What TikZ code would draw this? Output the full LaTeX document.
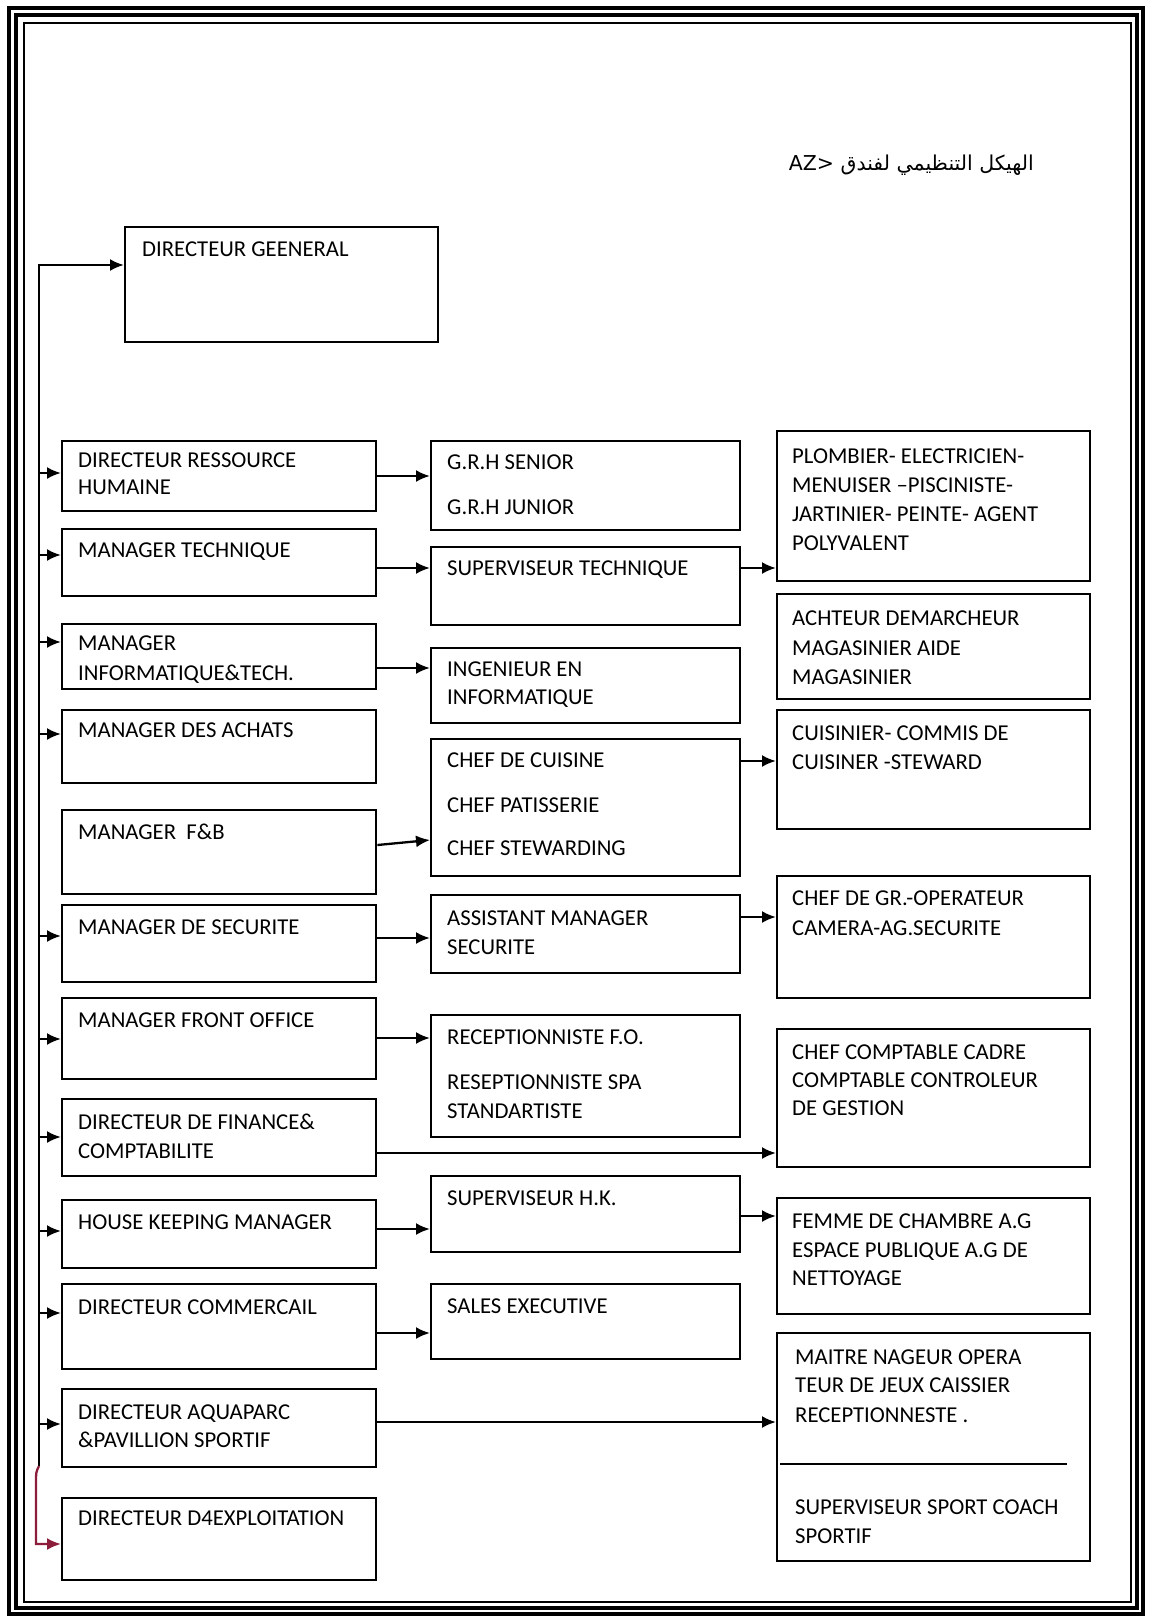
\documentclass[tikz,border=0pt]{standalone}
\usepackage{fontspec}
\setmainfont{Carlito}
\newfontfamily\arabicfont[Script=Arabic]{DejaVu Sans}
\TeXXeTstate=1
\usetikzlibrary{arrows.meta}
\definecolor{trunkred}{RGB}{140,30,60}

% \obox{name}{left}{top}{right}{bottom}
\newcommand{\obox}[5]{\node[orgbox, minimum width={#4pt-#2pt}, minimum height={#5pt-#3pt}] (#1) at (#2,#3) {};}

\begin{document}
\begin{tikzpicture}[x=1pt,y=-1pt,
  orgbox/.style={draw=black, line width=2.4pt, inner sep=0pt, anchor=north west},
  txt/.style={anchor=base west, inner sep=0pt, font=\fontsize{22.7}{27}\selectfont},
  link/.style={line width=2.3pt, -{Latex[length=14pt,width=12pt]}},
]
\useasboundingbox[fill=white] (0,0) rectangle (1149,1616);

% page frame
\draw[line width=4pt] (9,8) rectangle (1143,1614);
\draw[line width=3.5pt] (16,15) rectangle (1137,1608);
\draw[line width=2.5pt] (24,23) rectangle (1131,1602);

% title
\node[font=\arabicfont\fontsize{20.5}{24}\selectfont, anchor=east, inner sep=0pt] (title) at (1034,165)
  {\beginR الهيكل التنظيمي لفندق \beginL AZ>\endL\endR};

% top
\obox{dg}{124}{226}{437}{341}
\node[txt] (dg-1) at (142,256) {DIRECTEUR GEENERAL};

% first column
\obox{drh}{61}{440}{375}{510}
\obox{mt}{61}{528}{375}{595}
\obox{mi}{61}{623}{375}{688}
\obox{mda}{61}{709}{375}{782}
\obox{fb}{61}{809}{375}{893}
\obox{mds}{61}{904}{375}{981}
\obox{mfo}{61}{997}{375}{1078}
\obox{fin}{61}{1098}{375}{1175}
\obox{hk}{61}{1199}{375}{1267}
\obox{com}{61}{1283}{375}{1368}
\obox{aqua}{61}{1388}{375}{1466}
\obox{d4e}{61}{1497}{375}{1579}

\node[txt] (drh-1) at (78,467) {DIRECTEUR RESSOURCE};
\node[txt] (drh-2) at (78,494) {HUMAINE};
\node[txt] (mt-1) at (78,557) {MANAGER TECHNIQUE};
\node[txt] (mi-1) at (78,650) {MANAGER};
\node[txt] (mi-2) at (78,680) {INFORMATIQUE\&TECH.};
\node[txt] (mda-1) at (78,737) {MANAGER DES ACHATS};
\node[txt] (fb-1) at (78,839) {MANAGER\ \ F\&B};
\node[txt] (mds-1) at (78,934) {MANAGER DE SECURITE};
\node[txt] (mfo-1) at (78,1027) {MANAGER FRONT OFFICE};
\node[txt] (fin-1) at (78,1129) {DIRECTEUR DE FINANCE\&};
\node[txt] (fin-2) at (78,1158) {COMPTABILITE};
\node[txt] (hk-1) at (78,1229) {HOUSE KEEPING MANAGER};
\node[txt] (com-1) at (78,1314) {DIRECTEUR COMMERCAIL};
\node[txt] (aqua-1) at (78,1419) {DIRECTEUR AQUAPARC};
\node[txt] (aqua-2) at (78,1447) {\&PAVILLION SPORTIF};
\node[txt] (d4e-1) at (78,1525) {DIRECTEUR D4EXPLOITATION};

% second column
\obox{grh}{430}{440}{739}{529}
\obox{st}{430}{546}{739}{624}
\obox{ie}{430}{647}{739}{722}
\obox{chef}{430}{738}{739}{875}
\obox{ams}{430}{894}{739}{972}
\obox{rec}{430}{1014}{739}{1136}
\obox{shk}{430}{1175}{739}{1251}
\obox{sales}{430}{1283}{739}{1358}

\node[txt] (grh-1) at (447,469) {G.R.H SENIOR};
\node[txt] (grh-2) at (447,514) {G.R.H JUNIOR};
\node[txt] (st-1) at (447,575) {SUPERVISEUR TECHNIQUE};
\node[txt] (ie-1) at (447,676) {INGENIEUR EN};
\node[txt] (ie-2) at (447,704) {INFORMATIQUE};
\node[txt] (chef-1) at (447,767) {CHEF DE CUISINE};
\node[txt] (chef-2) at (447,812) {CHEF PATISSERIE};
\node[txt] (chef-3) at (447,855) {CHEF STEWARDING};
\node[txt] (ams-1) at (447,925) {ASSISTANT MANAGER};
\node[txt] (ams-2) at (447,954) {SECURITE};
\node[txt] (rec-1) at (447,1044) {RECEPTIONNISTE F.O.};
\node[txt] (rec-2) at (447,1089) {RESEPTIONNISTE SPA};
\node[txt] (rec-3) at (447,1118) {STANDARTISTE};
\node[txt] (shk-1) at (447,1205) {SUPERVISEUR H.K.};
\node[txt] (sales-1) at (447,1313) {SALES EXECUTIVE};

% third column
\obox{tech}{776}{430}{1089}{580}
\obox{ach}{776}{593}{1089}{698}
\obox{cuis}{776}{709}{1089}{828}
\obox{sec}{776}{875}{1089}{997}
\obox{cpt}{776}{1028}{1089}{1166}
\obox{fem}{776}{1197}{1089}{1313}
\obox{sport}{776}{1332}{1089}{1560}

\node[txt] (tech-1) at (792,463) {PLOMBIER- ELECTRICIEN-};
\node[txt] (tech-2) at (792,492) {MENUISER --PISCINISTE-};
\node[txt] (tech-3) at (792,521) {JARTINIER- PEINTE- AGENT};
\node[txt] (tech-4) at (792,550) {POLYVALENT};
\node[txt] (ach-1) at (792,625) {ACHTEUR DEMARCHEUR};
\node[txt] (ach-2) at (792,655) {MAGASINIER AIDE};
\node[txt] (ach-3) at (792,684) {MAGASINIER};
\node[txt] (cuis-1) at (792,740) {CUISINIER- COMMIS DE};
\node[txt] (cuis-2) at (792,769) {CUISINER -STEWARD};
\node[txt] (sec-1) at (792,905) {CHEF DE GR.-OPERATEUR};
\node[txt] (sec-2) at (792,935) {CAMERA-AG.SECURITE};
\node[txt] (cpt-1) at (792,1059) {CHEF COMPTABLE CADRE};
\node[txt] (cpt-2) at (792,1087) {COMPTABLE CONTROLEUR};
\node[txt] (cpt-3) at (792,1115) {DE GESTION};
\node[txt] (fem-1) at (792,1228) {FEMME DE CHAMBRE A.G};
\node[txt] (fem-2) at (792,1257) {ESPACE PUBLIQUE A.G DE};
\node[txt] (fem-3) at (792,1285) {NETTOYAGE};
\node[txt] (sport-1) at (795,1364) {MAITRE NAGEUR OPERA};
\node[txt] (sport-2) at (795,1392) {TEUR DE JEUX CAISSIER};
\node[txt] (sport-3) at (795,1422) {RECEPTIONNESTE .};
\node[txt] (sport-4) at (795,1514) {SUPERVISEUR SPORT COACH};
\node[txt] (sport-5) at (795,1543) {SPORTIF};
\draw[line width=2.4pt] ([xshift=4pt]sport.west |- 0,1464) -- ([xshift=-24pt]sport.east |- 0,1464);

% trunk feeding every department head
\coordinate (trunk) at (39,265);
\draw[link] (39,1466) -- (trunk) -- (dg.west |- trunk);
\draw[line width=2.3pt, draw=trunkred, -{Latex[length=14pt,width=12pt]}]
  (39,1466) .. controls (36,1472) .. (36,1485) -- (36,1544) -- (d4e.west |- 0,1544);

\draw[link] (trunk |- 0,473) -- (drh.west |- 0,473);
\draw[link] (trunk |- 0,555) -- (mt.west |- 0,555);
\draw[link] (trunk |- 0,642) -- (mi.west |- 0,642);
\draw[link] (trunk |- 0,734) -- (mda.west |- 0,734);
\draw[link] (trunk |- 0,936) -- (mds.west |- 0,936);
\draw[link] (trunk |- 0,1039) -- (mfo.west |- 0,1039);
\draw[link] (trunk |- 0,1137) -- (fin.west |- 0,1137);
\draw[link] (trunk |- 0,1231) -- (hk.west |- 0,1231);
\draw[link] (trunk |- 0,1313) -- (com.west |- 0,1313);
\draw[link] (trunk |- 0,1424) -- (aqua.west |- 0,1424);

% first to second / third column
\draw[link] (drh.east |- 0,476) -- (grh.west |- 0,476);
\draw[link] (mt.east |- 0,568) -- (st.west |- 0,568);
\draw[link] (mi.east |- 0,668) -- (ie.west |- 0,668);
\draw[link] (fb.east |- 0,845) -- (chef.west |- 0,840);
\draw[link] (mds.east |- 0,938) -- (ams.west |- 0,938);
\draw[link] (mfo.east |- 0,1038) -- (rec.west |- 0,1038);
\draw[link] (fin.east |- 0,1153) -- (cpt.west |- 0,1153);
\draw[link] (hk.east |- 0,1229) -- (shk.west |- 0,1229);
\draw[link] (com.east |- 0,1333) -- (sales.west |- 0,1333);
\draw[link] (aqua.east |- 0,1422) -- (sport.west |- 0,1422);

% second to third column
\draw[link] (st.east |- 0,568) -- (tech.west |- 0,568);
\draw[link] (chef.east |- 0,761) -- (cuis.west |- 0,761);
\draw[link] (ams.east |- 0,917) -- (sec.west |- 0,917);
\draw[link] (shk.east |- 0,1216) -- (fem.west |- 0,1216);
\end{tikzpicture}
\end{document}
